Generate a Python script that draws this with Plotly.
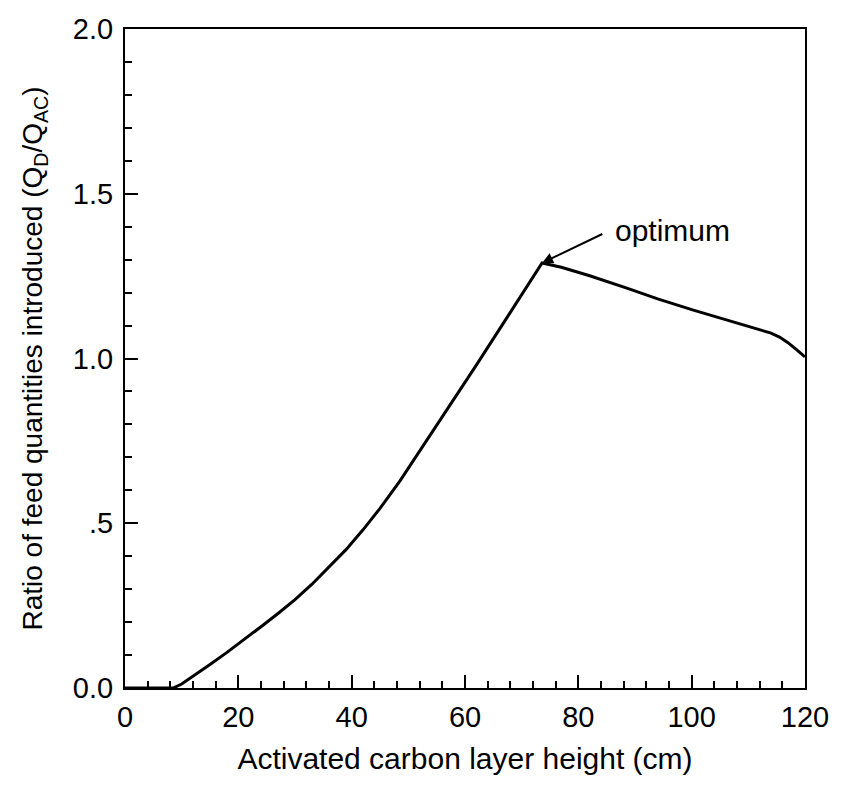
import plotly.graph_objects as go

# Data
height_cm = [0, 4, 8.5, 10, 12, 15, 18, 21, 24, 27, 30, 33, 36, 39, 42, 45, 48.5,
             55, 62, 68, 73.6,
             77, 82, 88.7, 94, 100.3, 106.2, 110, 112, 114, 115.5, 117, 118.5, 120]
ratio = [0, 0, 0.0, 0.012, 0.035, 0.071, 0.108, 0.146, 0.186, 0.226, 0.268, 0.315,
         0.366, 0.42, 0.48, 0.545, 0.628, 0.797, 0.98, 1.14, 1.29,
         1.277, 1.251, 1.213, 1.181, 1.147, 1.117, 1.099, 1.089, 1.077, 1.065, 1.048,
         1.027, 1.005]

x_ticks = [0, 20, 40, 60, 80, 100, 120]
y_ticks = [0, 0.5, 1.0, 1.5, 2.0]
y_tick_text = ["0.0", ".5", "1.0", "1.5", "2.0"]

opt_x, opt_y = 73.6, 1.29
opt_label = "optimum"

FONT = "Liberation Sans, Arial, Helvetica, sans-serif"

fig = go.Figure()
fig.add_trace(go.Scatter(x=height_cm, y=ratio, mode="lines",
                         line=dict(color="black", width=3), showlegend=False,
                         hoverinfo="skip"))

fig.add_annotation(x=opt_x, y=opt_y, ax=84.5, ay=1.38, axref="x", ayref="y",
                   xref="x", yref="y", text="", showarrow=True,
                   arrowhead=2, arrowsize=1.1, arrowwidth=2, arrowcolor="black")
fig.add_annotation(x=86.2, y=1.39, xref="x", yref="y", text=opt_label,
                   showarrow=False, xanchor="left", yanchor="middle",
                   font=dict(family=FONT, size=30, color="black"))

fig.update_layout(
    width=841, height=786,
    margin=dict(l=125, r=33, t=29, b=98),
    paper_bgcolor="white", plot_bgcolor="white",
    font=dict(family=FONT, color="black"),
    xaxis=dict(
        range=[0, 120], tickvals=x_ticks, ticks="inside", ticklen=13, tickwidth=1.5,
        tickcolor="black", showline=True, linecolor="black", linewidth=2, mirror=True,
        showgrid=False, zeroline=False, tickfont=dict(size=29, family=FONT),
        ticklabelstandoff=2,
        minor=dict(dtick=4, ticks="inside", ticklen=7, tickwidth=1.5, tickcolor="black",
                   showgrid=False),
        title=dict(text="Activated carbon layer height (cm)",
                   font=dict(size=30, family=FONT), standoff=16),
    ),
    yaxis=dict(
        range=[0, 2.0], tickvals=y_ticks, ticktext=y_tick_text, ticks="inside",
        ticklen=13, tickwidth=1.5, tickcolor="black", showline=True, linecolor="black",
        linewidth=2, mirror=True, showgrid=False, zeroline=False,
        tickfont=dict(size=29, family=FONT), ticklabelstandoff=4,
        minor=dict(dtick=0.1, ticks="inside", ticklen=7, tickwidth=1.5,
                   tickcolor="black", showgrid=False),
        title=dict(text="Ratio of feed quantities introduced (Q<sub>D</sub>/Q<sub>AC</sub>)",
                   font=dict(size=28, family=FONT), standoff=22),
    ),
)

fig.write_html("out.html")
